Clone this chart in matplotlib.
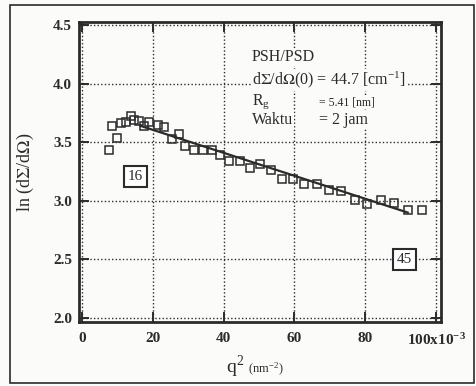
import matplotlib.pyplot as plt
from matplotlib.patches import Rectangle

plt.rcParams['font.family'] = ['Liberation Serif', 'DejaVu Serif']
plt.rcParams['mathtext.fontset'] = 'stix'

# data (q^2 in 1e-3 nm^-2)
q2 = [7.5, 8.5, 9.9, 10.9, 12.3, 13.7, 14.8, 16.1, 17.4, 18.8,
      21.4, 23.3, 25.4, 27.5, 29.1, 31.5, 34.1, 36.7, 39.1, 41.6,
      44.6, 47.5, 50.3, 53.4, 56.4, 59.5, 62.8, 66.3, 69.8, 73.1,
      77.0, 80.5, 84.4, 88.0, 92.2, 96.0]
ln_i = [3.43, 3.64, 3.54, 3.66, 3.67, 3.72, 3.69, 3.68, 3.64, 3.67,
        3.65, 3.63, 3.53, 3.57, 3.47, 3.43, 3.43, 3.43, 3.39, 3.34,
        3.34, 3.28, 3.31, 3.26, 3.19, 3.19, 3.14, 3.14, 3.09, 3.08,
        3.01, 2.97, 3.01, 2.98, 2.92, 2.92]

# Guinier fit line endpoints
fit_x = [16.5, 92.0]
fit_y = [3.64, 2.90]

xticks = [0, 20, 40, 60, 80, 100]
xticklabels = ['0', '20', '40', '60', '80', r'100x10$^{\mathregular{-3}}$']
yticks = [2.0, 2.5, 3.0, 3.5, 4.0, 4.5]

ink = '#2b2b2b'
paper = '#fbfbf9'

fig = plt.figure(figsize=(4.77, 3.86), dpi=100)
fig.patch.set_facecolor(paper)
ax = fig.add_axes([79 / 477, 1 - 322 / 386, (441 - 79) / 477, (322 - 22) / 386])
ax.set_facecolor(paper)

# outer frame of the scanned figure
fig.patches.append(Rectangle((10 / 477, 1 - 383 / 386), (474 - 10) / 477, (383 - 5) / 386,
                             transform=fig.transFigure, fill=False, ec=ink, lw=1.2))

ax.plot(fit_x, fit_y, color=ink, lw=1.6, zorder=3)
ax.plot(q2, ln_i, ls='none', marker='s', ms=5.5, mfc='none', mec=ink, mew=1.1, zorder=4)

ax.set_xlim(-0.85, 101.4)
ax.set_ylim(1.966, 4.526)
ax.set_xticks(xticks)
ax.set_xticklabels(xticklabels)
ax.set_yticks(yticks)
ax.set_yticklabels(['%.1f' % v for v in yticks])
ax.tick_params(direction='in', length=7, width=1.4, color=ink, top=True, right=True,
               labelsize=11, labelcolor=ink)
ax.tick_params(axis='x', pad=7)
ax.tick_params(axis='y', pad=5)
for lab in ax.get_xticklabels() + ax.get_yticklabels():
    lab.set_fontweight('bold')
ax.grid(True, ls=(0, (1, 1.6)), color=ink, lw=1.0)
for s in ax.spines.values():
    s.set_linewidth(2.0)
    s.set_color(ink)

ax.set_ylabel(r'ln (d$\Sigma$/d$\Omega$)', fontsize=13, color=ink, labelpad=12)

fig.text(226 / 477, 1 - 373 / 386, r'q$^{\mathregular{2}}$', fontsize=14, color=ink, va='baseline')
fig.text(248 / 477, 1 - 373 / 386, r'(nm$^{\mathregular{-2}}$)', fontsize=9, color=ink, va='baseline')

# annotation block, masking the grid behind it
mask = dict(boxstyle='square,pad=0.05', fc=paper, ec='none')
tx = 48.0
fs = 11.5
ax.text(tx, 4.19, 'PSH/PSD', fontsize=fs, color=ink, va='baseline', bbox=mask, zorder=5)
ax.text(tx, 3.99, r'd$\Sigma$/d$\Omega$(0) = 44.7 [cm$^{\mathregular{-1}}$]', fontsize=fs,
        color=ink, va='baseline', bbox=mask, zorder=5)
ax.text(tx, 3.815, r'R$_{\mathregular{g}}$', fontsize=fs, color=ink, va='baseline', bbox=mask, zorder=5)
ax.text(67, 3.815, '= 5.41 [nm]', fontsize=8.5, color=ink, va='baseline', bbox=mask, zorder=5)
ax.text(tx, 3.655, 'Waktu', fontsize=fs, color=ink, va='baseline', bbox=mask, zorder=5)
ax.text(67, 3.655, '= 2 jam', fontsize=fs, color=ink, va='baseline', bbox=mask, zorder=5)

box = dict(boxstyle='square,pad=0.25', fc='white', ec=ink, lw=1.5)
ax.text(15.0, 3.21, '16', fontsize=11, color=ink, ha='center', va='center', bbox=box)
ax.text(91.0, 2.50, '45', fontsize=11, color=ink, ha='center', va='center', bbox=box, zorder=5)

fig.savefig('out.png', dpi=100, facecolor=fig.get_facecolor())
